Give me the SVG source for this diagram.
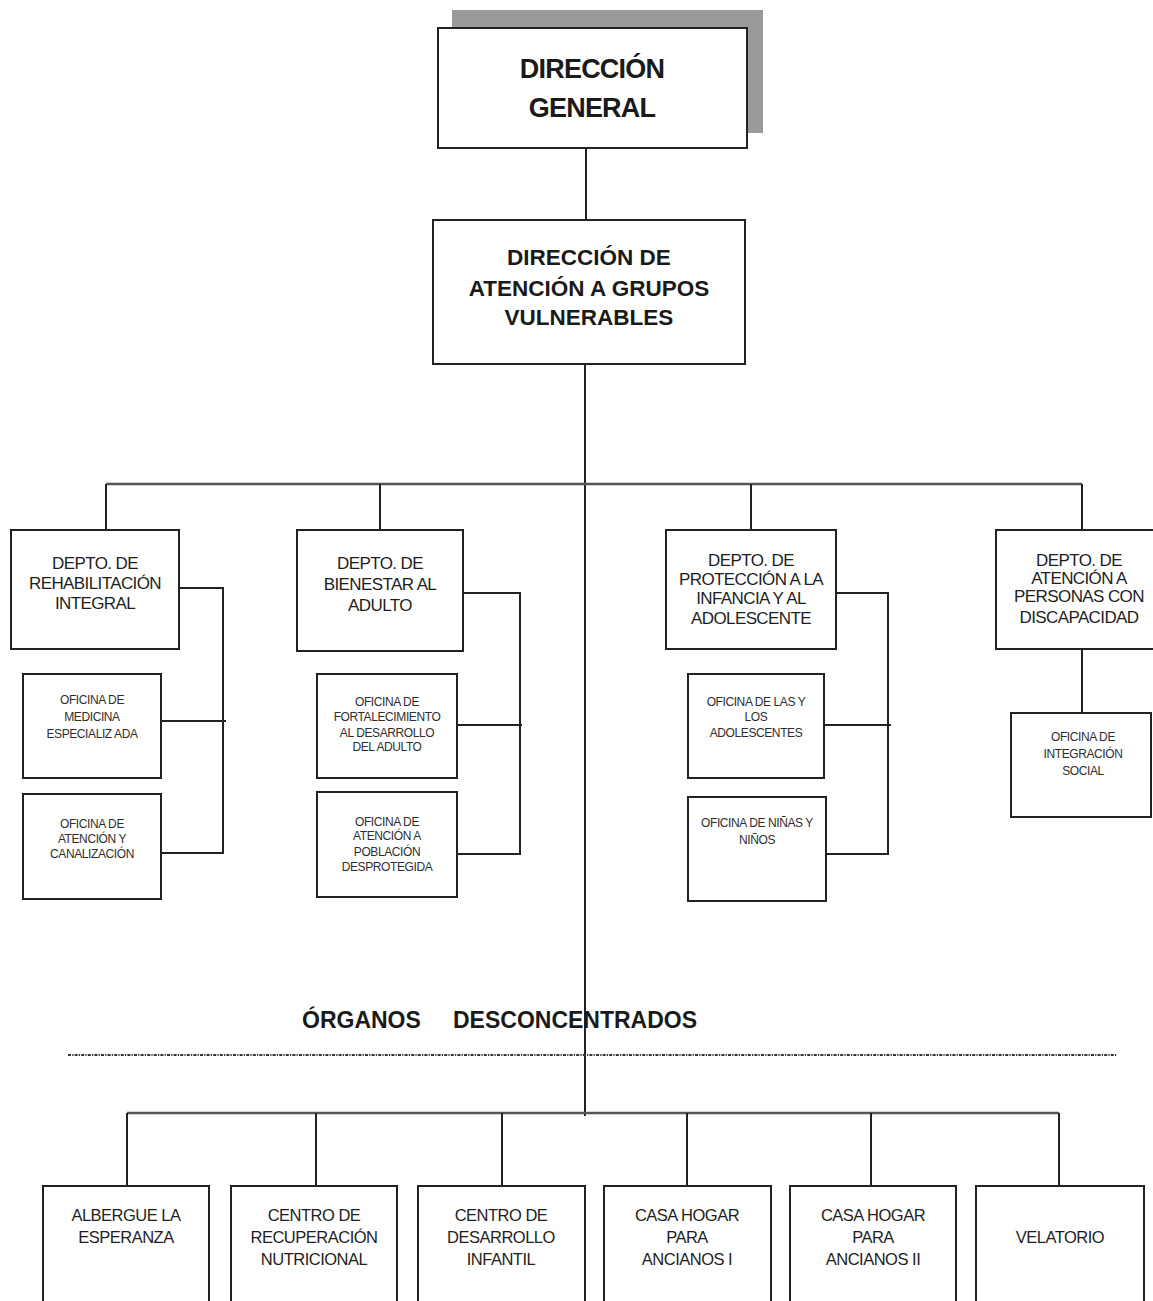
<svg xmlns="http://www.w3.org/2000/svg" width="1153" height="1301" viewBox="0 0 1153 1301">
  <style>
    .box { fill: #ffffff; stroke: #222222; stroke-width: 2; }
    .shadow { fill: #9a9a9a; }
    .line { fill: none; stroke: #222222; stroke-width: 2; }
    .bus { fill: none; stroke: #555555; stroke-width: 2.5; }
    .dots { fill: none; stroke: #333333; stroke-width: 2; stroke-dasharray: 3 1.2 1.2 1.2; }
    text { font-family: "Liberation Sans", Arial, sans-serif; fill: #1a1a1a; text-anchor: middle; }
    .t1 { font-size: 27px; font-weight: bold; letter-spacing: -0.8px; }
    .t2 { font-size: 22.5px; font-weight: bold; }
    .dep { font-size: 17px; letter-spacing: -0.6px; fill: #1e1e1e; }
    .ofi { font-size: 12px; letter-spacing: -0.4px; fill: #2e2e2e; }
    .org { font-size: 16.5px; letter-spacing: -0.5px; fill: #1e1e1e; }
    .sec { font-size: 23px; font-weight: bold; text-anchor: start; }
  </style>

  <!-- connectors -->
  <g id="connectors">
    <path class="line" d="M586,148 V220"/>
    <path class="line" d="M585,364 V1116"/>
    <path class="bus" d="M106,484 H1082"/>
    <path class="line" d="M106,484 V530 M380,484 V530 M751,484 V530 M1082,484 V530"/>
    <path class="line" d="M179,588 H223 V853 H161 M161,721 H226"/>
    <path class="line" d="M463,593 H520 V854 H457 M457,725 H522"/>
    <path class="line" d="M836,593 H888 V854 H826 M824,725 H891"/>
    <path class="line" d="M1082,649 V713"/>
    <path class="dots" d="M68,1055 H1117"/>
    <path class="bus" d="M127,1113 H1059"/>
    <path class="line" d="M127,1113 V1186 M316,1113 V1186 M502,1113 V1186 M687,1113 V1186 M871,1113 V1186 M1059,1113 V1186"/>
  </g>

  <!-- top management -->
  <g id="direccion-general">
    <rect class="shadow" x="452" y="10" width="311" height="123"/>
    <rect class="box" x="438" y="28" width="309" height="120"/>
    <text class="t1" x="592" y="78">DIRECCIÓN</text>
    <text class="t1" x="592" y="117">GENERAL</text>
  </g>

  <g id="direccion-grupos-vulnerables">
    <rect class="box" x="433" y="220" width="312" height="144"/>
    <text class="t2" x="589" y="265">DIRECCIÓN DE</text>
    <text class="t2" x="589" y="296">ATENCIÓN A GRUPOS</text>
    <text class="t2" x="589" y="325">VULNERABLES</text>
  </g>

  <!-- departments -->
  <g id="depto-rehabilitacion">
    <rect class="box" x="11" y="530" width="168" height="119"/>
    <text class="dep" x="95" y="569">DEPTO. DE</text>
    <text class="dep" x="95" y="589">REHABILITACIÓN</text>
    <text class="dep" x="95" y="609">INTEGRAL</text>
  </g>

  <g id="depto-bienestar-adulto">
    <rect class="box" x="297" y="530" width="166" height="121"/>
    <text class="dep" x="380" y="569">DEPTO. DE</text>
    <text class="dep" x="380" y="590">BIENESTAR AL</text>
    <text class="dep" x="380" y="611">ADULTO</text>
  </g>

  <g id="depto-proteccion-infancia">
    <rect class="box" x="666" y="530" width="170" height="119"/>
    <text class="dep" x="751" y="566">DEPTO. DE</text>
    <text class="dep" x="751" y="585">PROTECCIÓN A LA</text>
    <text class="dep" x="751" y="604">INFANCIA Y AL</text>
    <text class="dep" x="751" y="624">ADOLESCENTE</text>
  </g>

  <g id="depto-discapacidad">
    <rect class="box" x="996" y="530" width="170" height="119"/>
    <text class="dep" x="1079" y="566">DEPTO. DE</text>
    <text class="dep" x="1079" y="584">ATENCIÓN A</text>
    <text class="dep" x="1079" y="602">PERSONAS CON</text>
    <text class="dep" x="1079" y="623">DISCAPACIDAD</text>
  </g>

  <!-- offices -->
  <g id="oficina-medicina">
    <rect class="box" x="23" y="674" width="138" height="104"/>
    <text class="ofi" x="92" y="704">OFICINA DE</text>
    <text class="ofi" x="92" y="721">MEDICINA</text>
    <text class="ofi" x="92" y="738">ESPECIALIZ ADA</text>
  </g>

  <g id="oficina-canalizacion">
    <rect class="box" x="23" y="794" width="138" height="105"/>
    <text class="ofi" x="92" y="828">OFICINA DE</text>
    <text class="ofi" x="92" y="843">ATENCIÓN Y</text>
    <text class="ofi" x="92" y="858">CANALIZACIÓN</text>
  </g>

  <g id="oficina-fortalecimiento">
    <rect class="box" x="317" y="674" width="140" height="104"/>
    <text class="ofi" x="387" y="706">OFICINA DE</text>
    <text class="ofi" x="387" y="721">FORTALECIMIENTO</text>
    <text class="ofi" x="387" y="737">AL DESARROLLO</text>
    <text class="ofi" x="387" y="751">DEL ADULTO</text>
  </g>

  <g id="oficina-poblacion">
    <rect class="box" x="317" y="792" width="140" height="105"/>
    <text class="ofi" x="387" y="826">OFICINA DE</text>
    <text class="ofi" x="387" y="840">ATENCIÓN A</text>
    <text class="ofi" x="387" y="856">POBLACIÓN</text>
    <text class="ofi" x="387" y="871">DESPROTEGIDA</text>
  </g>

  <g id="oficina-adolescentes">
    <rect class="box" x="688" y="674" width="136" height="104"/>
    <text class="ofi" x="756" y="706">OFICINA DE LAS Y</text>
    <text class="ofi" x="756" y="721">LOS</text>
    <text class="ofi" x="756" y="737">ADOLESCENTES</text>
  </g>

  <g id="oficina-ninas-ninos">
    <rect class="box" x="688" y="797" width="138" height="104"/>
    <text class="ofi" x="757" y="827">OFICINA DE NIÑAS Y</text>
    <text class="ofi" x="757" y="844">NIÑOS</text>
  </g>

  <g id="oficina-integracion">
    <rect class="box" x="1011" y="713" width="140" height="104"/>
    <text class="ofi" x="1083" y="741">OFICINA DE</text>
    <text class="ofi" x="1083" y="758">INTEGRACIÓN</text>
    <text class="ofi" x="1083" y="775">SOCIAL</text>
  </g>

  <!-- section heading -->
  <g id="organos-desconcentrados">
    <text class="sec" y="1028"><tspan x="302">ÓRGANOS</tspan><tspan x="453">DESCONCENTRADOS</tspan></text>
  </g>

  <!-- decentralised bodies -->
  <g id="albergue">
    <rect class="box" x="43" y="1186" width="166" height="140"/>
    <text class="org" x="126" y="1221">ALBERGUE LA</text>
    <text class="org" x="126" y="1243">ESPERANZA</text>
  </g>

  <g id="centro-nutricional">
    <rect class="box" x="231" y="1186" width="166" height="140"/>
    <text class="org" x="314" y="1221">CENTRO DE</text>
    <text class="org" x="314" y="1243">RECUPERACIÓN</text>
    <text class="org" x="314" y="1265">NUTRICIONAL</text>
  </g>

  <g id="centro-infantil">
    <rect class="box" x="418" y="1186" width="167" height="140"/>
    <text class="org" x="501" y="1221">CENTRO DE</text>
    <text class="org" x="501" y="1243">DESARROLLO</text>
    <text class="org" x="501" y="1265">INFANTIL</text>
  </g>

  <g id="casa-hogar-1">
    <rect class="box" x="604" y="1186" width="167" height="140"/>
    <text class="org" x="687" y="1221">CASA HOGAR</text>
    <text class="org" x="687" y="1243">PARA</text>
    <text class="org" x="687" y="1265">ANCIANOS I</text>
  </g>

  <g id="casa-hogar-2">
    <rect class="box" x="790" y="1186" width="166" height="140"/>
    <text class="org" x="873" y="1221">CASA HOGAR</text>
    <text class="org" x="873" y="1243">PARA</text>
    <text class="org" x="873" y="1265">ANCIANOS II</text>
  </g>

  <g id="velatorio">
    <rect class="box" x="976" y="1186" width="168" height="140"/>
    <text class="org" x="1060" y="1243">VELATORIO</text>
  </g>
</svg>
